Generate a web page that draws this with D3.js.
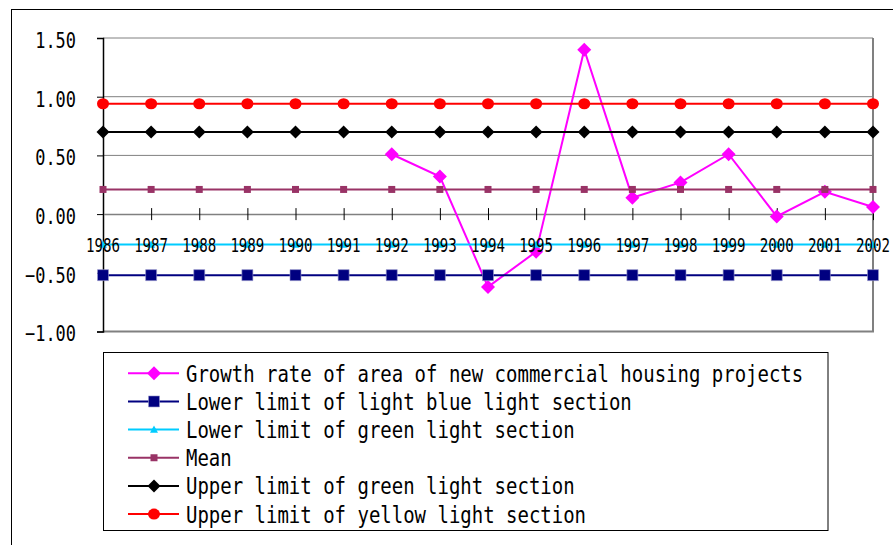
<!DOCTYPE html>
<html><head><meta charset="utf-8">
<script src="https://cdn.jsdelivr.net/npm/d3@7"></script>
<style>body{margin:0;background:#fff;}svg{display:block;}</style>
</head><body>
<svg id="c" width="893" height="545"></svg>
<script>
const years = ["1986","1987","1988","1989","1990","1991","1992","1993","1994","1995","1996","1997","1998","1999","2000","2001","2002"];
const growthRate = [null,null,null,null,null,null,0.51,0.32,-0.62,-0.32,1.40,0.14,0.27,0.51,-0.02,0.19,0.06];
const lowerLightBlue = [-0.52,-0.52,-0.52,-0.52,-0.52,-0.52,-0.52,-0.52,-0.52,-0.52,-0.52,-0.52,-0.52,-0.52,-0.52,-0.52,-0.52];
const lowerGreen = [-0.26,-0.26,-0.26,-0.26,-0.26,-0.26,-0.26,-0.26,-0.26,-0.26,-0.26,-0.26,-0.26,-0.26,-0.26,-0.26,-0.26];
const meanVals = [0.21,0.21,0.21,0.21,0.21,0.21,0.21,0.21,0.21,0.21,0.21,0.21,0.21,0.21,0.21,0.21,0.21];
const upperGreen = [0.70,0.70,0.70,0.70,0.70,0.70,0.70,0.70,0.70,0.70,0.70,0.70,0.70,0.70,0.70,0.70,0.70];
const upperYellow = [0.94,0.94,0.94,0.94,0.94,0.94,0.94,0.94,0.94,0.94,0.94,0.94,0.94,0.94,0.94,0.94,0.94];
const seriesNames = ["Growth rate of area of new commercial housing projects","Lower limit of light blue light section","Lower limit of green light section","Mean","Upper limit of green light section","Upper limit of yellow light section"];
const yTicks = [-1.0,-0.5,0,0.5,1.0,1.5];
const gridTicks = [0.5,1.0,1.5];

const series = [
  {name:seriesNames[0], values:growthRate, color:"#ff00ff", marker:"diamond", ms:7},
  {name:seriesNames[1], values:lowerLightBlue, color:"#000080", marker:"square", ms:5.5},
  {name:seriesNames[2], values:lowerGreen, color:"#00ccff", marker:"triangle", ms:4},
  {name:seriesNames[3], values:meanVals, color:"#993366", marker:"square", ms:3.5},
  {name:seriesNames[4], values:upperGreen, color:"#000000", marker:"diamond", ms:6.5},
  {name:seriesNames[5], values:upperYellow, color:"#ff0000", marker:"circle", ms:6}
];

const svg = d3.select("#c");
const L=103, R=873, T=38, B=331.5;
const x = d3.scalePoint().domain(years).range([L,R]);
const y = d3.scaleLinear().domain([-1,1.5]).range([B,T]);

// outer chart border
svg.append("rect").attr("x",11.5).attr("y",9.5).attr("width",1000).attr("height",1000)
  .attr("fill","none").attr("stroke","#000").attr("stroke-width",1);

// gridlines
svg.append("g").selectAll("line").data(gridTicks)
  .join("line").attr("x1",L).attr("x2",R).attr("y1",d=>y(d)).attr("y2",d=>y(d))
  .attr("stroke","#808080").attr("stroke-width",1);
// frame right/bottom
svg.append("line").attr("x1",R).attr("x2",R).attr("y1",T).attr("y2",B).attr("stroke","#808080").attr("stroke-width",2);
svg.append("line").attr("x1",L).attr("x2",R+1).attr("y1",B).attr("y2",B).attr("stroke","#808080").attr("stroke-width",2);

// y axis
const yAx = svg.append("g").attr("transform",`translate(${L},0)`)
  .call(d3.axisLeft(y).tickValues(yTicks).tickSize(6).tickPadding(21).tickFormat(d3.format(".2f")));
yAx.select(".domain").attr("stroke","#000").attr("stroke-width",1.5);
yAx.selectAll(".tick line").attr("stroke","#000");
yAx.selectAll(".tick text").attr("font-family","DejaVu Sans Mono").attr("font-size",21)
  .attr("fill","#000").attr("dy","0.45em")
  .attr("textLength",function(){return this.textContent.length*10.2;}).attr("lengthAdjust","spacingAndGlyphs");

// x axis at zero
const xAx = svg.append("g").attr("transform",`translate(0,${y(0)})`)
  .call(d3.axisBottom(x).tickSize(6).tickSizeOuter(0));
xAx.select(".domain").attr("stroke","#808080").attr("stroke-width",1.5);
xAx.selectAll(".tick line").attr("y1",-6).attr("y2",6).attr("stroke","#000");
xAx.selectAll(".tick text").remove();

function markerPath(type, s){
  if(type==="diamond") return `M0,${-s}L${s},0L0,${s}L${-s},0Z`;
  if(type==="square") return `M${-s},${-s}H${s}V${s}H${-s}Z`;
  if(type==="triangle") return `M0,${-s}L${s},${s*0.8}L${-s},${s*0.8}Z`;
  return null;
}
function drawMarker(g, s, cx, cy){
  if(s.marker==="circle"){
    g.append("ellipse").attr("cx",cx).attr("cy",cy).attr("rx",s.ms).attr("ry",s.ms*0.92).attr("fill",s.color);
  } else {
    g.append("path").attr("d",markerPath(s.marker,s.ms)).attr("transform",`translate(${cx},${cy})`)
      .attr("fill",s.color).attr("stroke", s.marker==="square" && s.ms>4 ? "#9999cc":"none").attr("stroke-width",0.6);
  }
}

const line = d3.line().defined(d=>d.v!=null).x(d=>x(d.k)).y(d=>y(d.v));
series.forEach(s=>{
  const pts = years.map((k,i)=>({k, v:s.values[i]}));
  const g = svg.append("g");
  g.append("path").datum(pts).attr("d",line).attr("fill","none").attr("stroke",s.color).attr("stroke-width",2);
  pts.filter(d=>d.v!=null).forEach(d=>drawMarker(g,s,x(d.k),y(d.v)));
});

// x labels on top
svg.append("g").selectAll("text").data(years).join("text")
  .attr("x",d=>x(d)).attr("y",y(0)+38).attr("text-anchor","middle")
  .attr("font-family","DejaVu Sans Mono").attr("font-size",19).attr("fill","#000")
  .attr("textLength",34).attr("lengthAdjust","spacingAndGlyphs").text(d=>d);

// legend
const LX=103.5, LY=352.5, LW=724.5, LH=178;
svg.append("clipPath").attr("id","lc").append("rect").attr("x",LX).attr("y",LY).attr("width",LW).attr("height",LH);
svg.append("rect").attr("x",LX).attr("y",LY).attr("width",LW).attr("height",LH).attr("fill","#fff").attr("stroke","#000").attr("stroke-width",1);
const lg = svg.append("g").attr("clip-path","url(#lc)");
series.forEach((s,i)=>{
  const cy = 373.3 + i*28.15;
  const g = lg.append("g");
  g.append("line").attr("x1",128).attr("x2",179).attr("y1",cy).attr("y2",cy).attr("stroke",s.color).attr("stroke-width",2);
  drawMarker(g,s,154,cy);
  g.append("text").attr("x",186).attr("y",cy+8.5).attr("font-family","DejaVu Sans Mono").attr("font-size",23)
    .attr("fill","#000").attr("textLength",s.name.length*11.43).attr("lengthAdjust","spacingAndGlyphs").text(s.name);
});
</script>
</body></html>
